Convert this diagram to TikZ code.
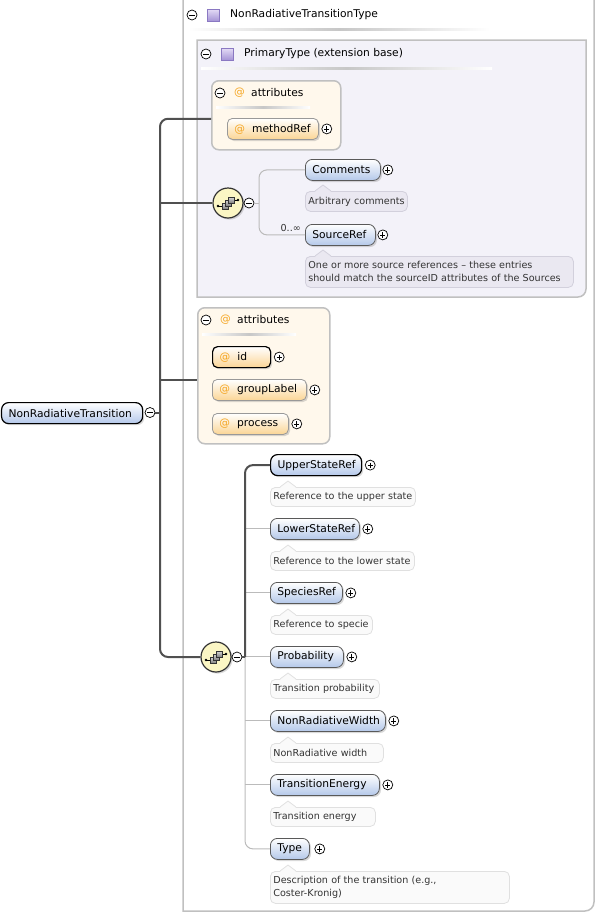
\documentclass[tikz,border=0pt]{standalone}
\usepackage{fontspec}
\setmainfont{DejaVu Sans}
\usetikzlibrary{shadows,calc}
\definecolor{trunkc}{HTML}{505050}
\definecolor{thinc}{HTML}{BBBBBB}
\definecolor{boxc}{HTML}{C0C0C0}
\definecolor{lav}{HTML}{F3F2F9}
\definecolor{cream}{HTML}{FFF8EC}
\definecolor{elblue}{HTML}{B4C8EA}
\definecolor{elorange}{HTML}{FBD595}
\definecolor{atorange}{HTML}{F5A623}
\definecolor{annlavc}{HTML}{EAE8F1}
\definecolor{annlavbc}{HTML}{D2D0DC}
\definecolor{annwc}{HTML}{FAFAFA}
\definecolor{annwbc}{HTML}{E0E0E0}
\definecolor{seqfill}{HTML}{FBF6C4}
\definecolor{sqtop}{HTML}{E4DCF6}
\definecolor{sqbot}{HTML}{A594D6}
\definecolor{sqb}{HTML}{8A78C2}
\newcommand{\elfont}{\fontsize{10.7}{12}\selectfont}
\newcommand{\anfont}{\fontsize{9.6}{13}\selectfont}
\newcommand{\attsym}{{\color{atorange}@}\hspace{7pt}}
\newcommand{\notch}[3]{%
  \fill[#2] ($(#1.north west)+(10,0.8)$) -- ($(#1.north west)+(18,-6)$) -- ($(#1.north west)+(26,0.8)$) -- cycle;
  \draw[#3, line width=0.8pt] ($(#1.north west)+(10,0)$) -- ($(#1.north west)+(18,-6)$) -- ($(#1.north west)+(26,0)$);}
\newcommand{\seqicon}[1]{%
  \draw[line width=0.9pt] ($(#1.center)+(-10,3)$) -- ($(#1.center)+(-5,3)$) ($(#1.center)+(5,-3)$) -- ($(#1.center)+(10,-3)$);
  \fill ($(#1.center)+(-10,3)$) circle[radius=1.4pt] ($(#1.center)+(10,-3)$) circle[radius=1.4pt];
  \foreach \d in {0,3,6} {\draw[black!80, line width=0.6pt, top color=black!15, bottom color=black!50] ($(#1.center)+(-6+\d,0-\d)$) rectangle ($(#1.center)+(0+\d,6-\d)$);}}
\tikzset{
  shd/.style={drop shadow={shadow xshift=1.6pt,shadow yshift=-1.6pt,opacity=0.3}},
  elem/.style={anchor=north west, rounded corners=7pt, draw=black!65, line width=0.8pt,
    top color=white, bottom color=elblue, minimum height=21pt, inner ysep=0pt, inner xsep=7pt,
    text width=#1, align=left, font=\elfont, shd},
  attel/.style={elem=#1, bottom color=elorange, rounded corners=5pt, draw=black!40},
  req/.style={draw=black, line width=1.2pt},
  annbox/.style={anchor=north west, rounded corners=5pt, draw=annwbc, fill=annwc, line width=0.8pt,
    minimum height=19pt, inner xsep=3pt, inner ysep=0pt, text width=#1, align=left,
    font=\anfont, text=black!80},
  annlbox/.style={annbox=#1, draw=annlavbc, fill=annlavc, minimum height=20pt},
  pm/.style={circle, draw=black, fill=white, minimum size=10pt, inner sep=0pt, line width=0.7pt},
  plusn/.style={pm, path picture={\draw[line width=0.7pt] (path picture bounding box.center) +(-2.6,0) -- +(2.6,0) +(0,-2.6) -- +(0,2.6);}},
  minusn/.style={pm, path picture={\draw[line width=0.7pt] (path picture bounding box.center) +(-2.6,0) -- +(2.6,0);}},
  seq/.style={circle, draw=black!80, fill=seqfill, line width=1.2pt, minimum size=30pt, inner sep=0pt, shd},
  sq/.style={minimum size=12pt, inner sep=0pt, draw=sqb, line width=0.8pt, top color=sqtop, bottom color=sqbot},
  cont/.style={anchor=north west, draw=boxc, line width=1.5pt, rounded corners=7pt, inner sep=0pt},
  trunk/.style={draw=trunkc, line width=2pt},
  thinl/.style={draw=thinc, line width=1pt},
  hdr/.style={anchor=west, inner sep=0pt, font=\elfont},
  uline/.style={left color=white, right color=white, middle color=black!22},
}
\begin{document}
\begin{tikzpicture}[x=1pt,y=-1pt]
\useasboundingbox (0,0) rectangle (596,914);
% outer type box
\draw[boxc, line width=1.5pt] (183,-5) -- (183,911) [rounded corners=9pt] -- (594,911) [sharp corners] -- (594,-5);
\node[minusn] (tpm) at (192,15) {};
\node[sq] (tsq) at (213,15) {};
\node[hdr] (ttl) at (230,15) {NonRadiativeTransitionType};
\shade[uline] (188,28) rectangle (490,30);
% primary type box
\filldraw[draw=boxc, fill=lav, line width=1.5pt] (197,40) -- (586,40) [rounded corners=8pt] -- (586,297) [sharp corners] -- (197,297) -- cycle;
\node[minusn] (ppm) at (206,54) {};
\node[sq] (psq) at (227,54) {};
\node[hdr] (pttl) at (244,54) {PrimaryType (extension base)};
\shade[uline] (201,67) rectangle (492,69);
% attributes A
\node[cont, fill=cream, minimum width=129pt, minimum height=69pt] (attrA) at (211,80) {};
\node[minusn] (apm) at (220,93) {};
\node[hdr, text=atorange] (aat) at (234,93) {@};
\node[hdr] (attl) at (251,93) {attributes};
\shade[uline] (216,106) rectangle (310,108);
\node[attel=77pt] (methodRef) at (227,118) {\mbox{\attsym methodRef}};
\node[plusn] (methodRefp) at ([xshift=8pt]methodRef.east) {};
% sequence 1
\node[seq] (seqA) at (228,203) {};
\seqicon{seqA}
\node[minusn] (seqApm) at (249,203) {};
\coordinate (vA) at (259,203);
\node[elem=61pt] (comments) at (305,159) {\mbox{Comments}};
\node[plusn] (commentsp) at ([xshift=7pt]comments.east) {};
\node[annlbox=96pt] (commentsa) at (305,191) {\mbox{Arbitrary comments}};
\notch{commentsa}{annlavc}{annlavbc}
\node[elem=56pt] (sourceref) at (305,224) {\mbox{SourceRef}};
\node[plusn] (sourcerefp) at ([xshift=7pt]sourceref.east) {};
\node[annlbox=262pt, minimum height=31pt] (sourcerefa) at (305,256) {One or more source references – these entries\\should match the sourceID attributes of the Sources};
\notch{sourcerefa}{annlavc}{annlavbc}
\node[anchor=base east, inner sep=0pt, font=\anfont, text=black!80] (occ) at (301,231) {0..∞};
\draw[thinl, rounded corners=8pt] (comments.west) -| (vA) |- (sourceref.west);
\draw[thinl] (seqApm.east) -- (vA);
% attributes B
\node[cont, fill=cream, minimum width=132pt, minimum height=136pt] (attrB) at (197,307) {};
\node[minusn] (bpm) at (206,320) {};
\node[hdr, text=atorange] (bat) at (220,320) {@};
\node[hdr] (bttl) at (237,320) {attributes};
\shade[uline] (202,333) rectangle (296,335);
\node[attel=44pt, req] (id) at (212,346) {\mbox{\attsym id}};
\node[plusn] (idp) at ([xshift=8pt]id.east) {};
\node[attel=80pt] (groupLabel) at (212,379) {\mbox{\attsym groupLabel}};
\node[plusn] (groupLabelp) at ([xshift=8pt]groupLabel.east) {};
\node[attel=62pt] (process) at (212,413) {\mbox{\attsym process}};
\node[plusn] (processp) at ([xshift=8pt]process.east) {};
% main element
\node[elem=127pt, req] (main) at (1,402) {\mbox{NonRadiativeTransition}};
\node[minusn] (mainpm) at (150,412.5) {};
\coordinate (tr) at (160,412.5);
% sequence 2
\node[seq] (seqB) at (216,657) {};
\seqicon{seqB}
\node[minusn] (seqBpm) at (237,657) {};
\coordinate (vB) at (245,657);
% children
\node[elem=77pt, req] (upper) at (270,454) {\mbox{UpperStateRef}};
\node[plusn] (upperp) at ([xshift=8pt]upper.east) {};
\node[annbox=139pt] (uppera) at (270,487) {\mbox{Reference to the upper state}};
\node[elem=75pt] (lower) at (270,518) {\mbox{LowerStateRef}};
\node[plusn] (lowerp) at ([xshift=8pt]lower.east) {};
\node[annbox=138pt] (lowera) at (270,551) {\mbox{Reference to the lower state}};
\node[elem=58pt] (species) at (270,582) {\mbox{SpeciesRef}};
\node[plusn] (speciesp) at ([xshift=8pt]species.east) {};
\node[annbox=96pt] (speciesa) at (270,615) {\mbox{Reference to specie}};
\node[elem=59pt] (prob) at (270,646) {\mbox{Probability}};
\node[plusn] (probp) at ([xshift=8pt]prob.east) {};
\node[annbox=103pt] (proba) at (270,679) {\mbox{Transition probability}};
\node[elem=101pt] (nrw) at (270,710) {\mbox{NonRadiativeWidth}};
\node[plusn] (nrwp) at ([xshift=8pt]nrw.east) {};
\node[annbox=107pt] (nrwa) at (270,743) {\mbox{NonRadiative width}};
\node[elem=95pt] (te) at (270,774) {\mbox{TransitionEnergy}};
\node[plusn] (tep) at ([xshift=8pt]te.east) {};
\node[annbox=99pt] (tea) at (270,807) {\mbox{Transition energy}};
\node[elem=25pt] (type) at (270,838) {\mbox{Type}};
\node[plusn] (typep) at ([xshift=10pt]type.east) {};
\node[annbox=233pt, minimum height=32pt] (typea) at (270,871) {Description of the transition (e.g.,\\Coster-Kronig)};
\foreach \a in {uppera,lowera,speciesa,proba,nrwa,tea,typea} {\notch{\a}{annwc}{annwbc}}
% connectors
\draw[thinl, rounded corners=8pt] (vB) |- (type.west);
\foreach \n in {lower,species,prob,nrw,te} {\draw[thinl] (vB |- \n.west) -- (\n.west);}
\draw[trunk, rounded corners=8pt] (upper.west) -| (vB);
\draw[trunk] (seqBpm.east) -- (vB);
\draw[trunk, rounded corners=8pt] ([yshift=-3.5pt]attrA.west) -| (tr) |- (seqB.west);
\draw[trunk] (tr |- seqA.west) -- (seqA.west);
\draw[trunk] ([yshift=-4pt]attrB.west -| tr) -- ([yshift=-4pt]attrB.west);
\draw[trunk] (mainpm.east) -- (tr);
\end{tikzpicture}
\end{document}
